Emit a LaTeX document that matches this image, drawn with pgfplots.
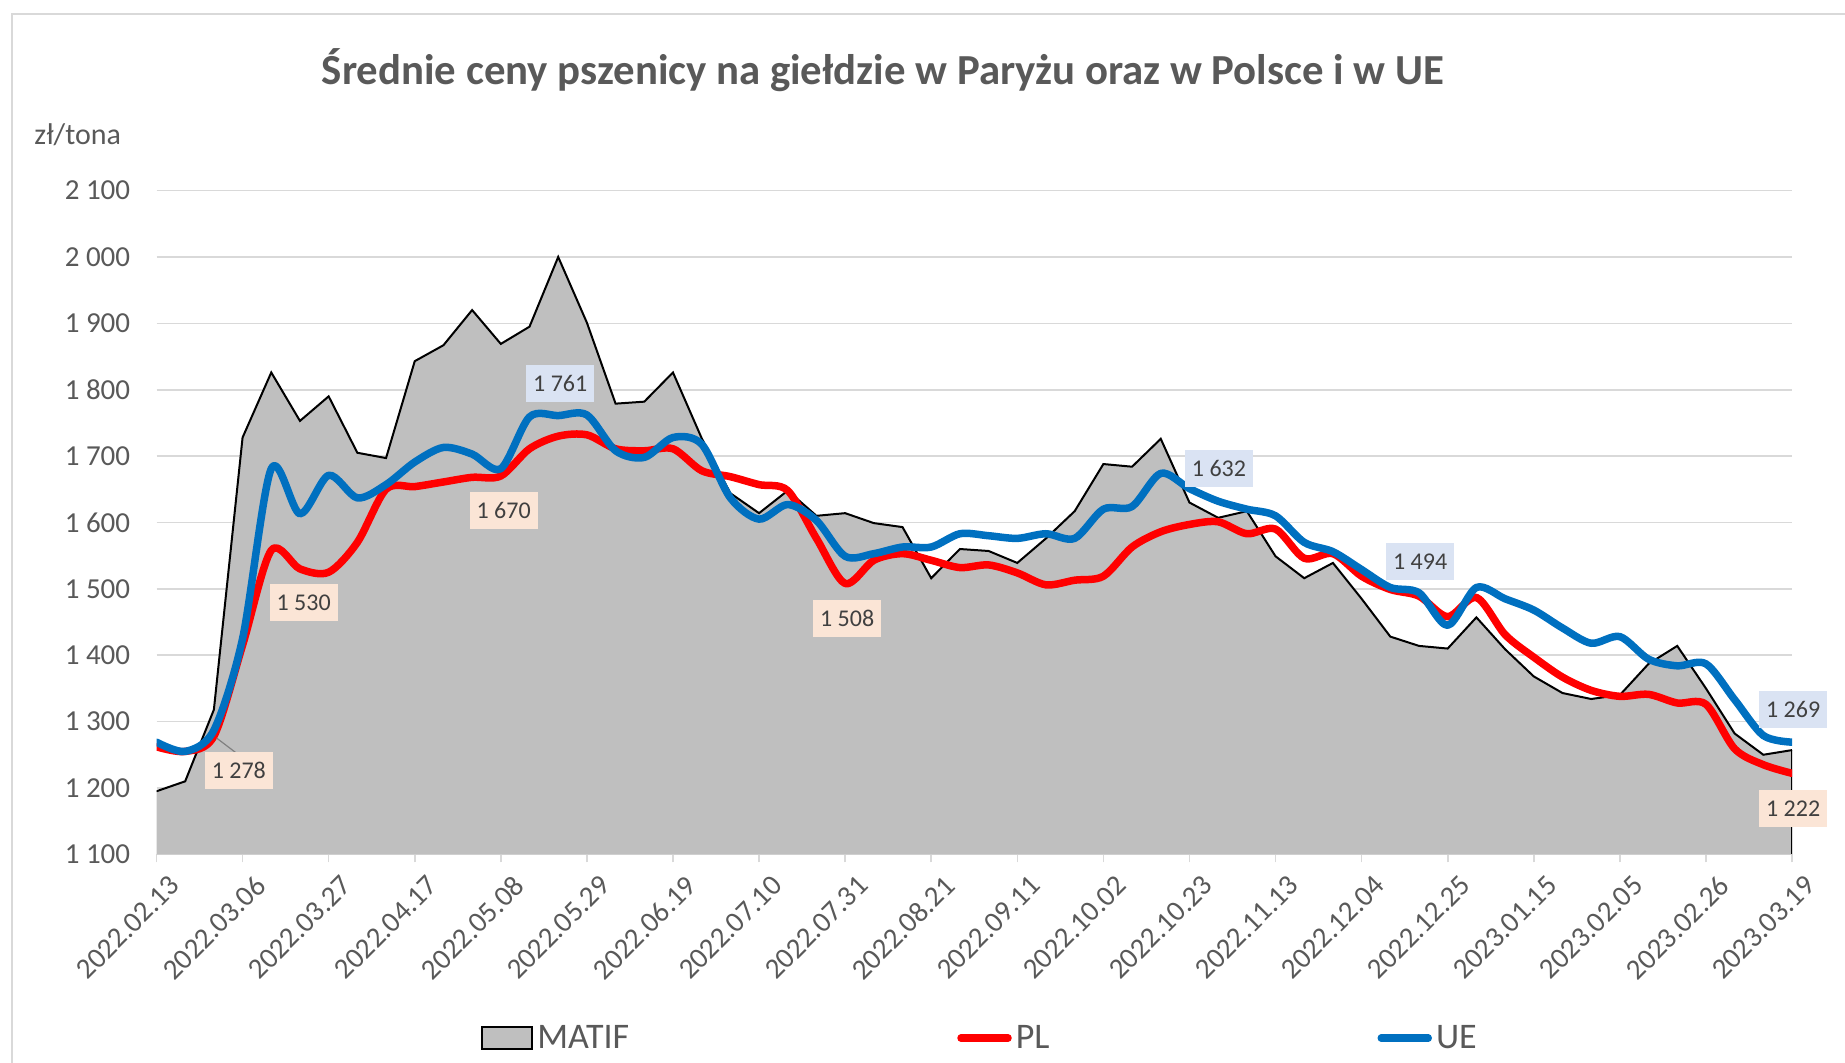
\documentclass[border=0pt]{standalone}
\usepackage{pgfplots}
\usepackage{pgfplotstable}
\pgfplotsset{compat=1.18}
\usepackage{fontspec}
\setmainfont{Carlito}
\definecolor{txtgray}{HTML}{595959}
\definecolor{lblgray}{HTML}{404040}
\definecolor{gridgray}{HTML}{D9D9D9}
\definecolor{areagray}{HTML}{BFBFBF}
\definecolor{plred}{HTML}{FF0000}
\definecolor{ueblue}{HTML}{0070C0}
\definecolor{peach}{HTML}{FBE5D6}
\definecolor{lightblue}{HTML}{DAE3F3}
\newcommand\tickfont{\fontsize{14.5}{17}\selectfont}
\newcommand\lblfont{\fontsize{12}{14}\selectfont}
\newcommand\legfont{\fontsize{18}{21}\selectfont}
\newcommand\titlefont{\fontsize{21.4}{25}\selectfont\bfseries}

\pgfplotstableread{
i matif pl ue
0 1195 1262 1269
1 1210 1255 1255
2 1318 1278 1287
3 1728 1415 1425
4 1826 1558 1681
5 1753 1530 1613
6 1790 1525 1671
7 1705 1570 1637
8 1697 1650 1657
9 1843 1654 1691
10 1867 1661 1713
11 1920 1668 1703
12 1869 1670 1681
13 1895 1711 1759
14 2000 1730 1761
15 1901 1732 1762
16 1779 1711 1708
17 1782 1708 1698
18 1826 1711 1728
19 1727 1678 1718
20 1644 1669 1637
21 1614 1657 1605
22 1648 1648 1627
23 1610 1576 1603
24 1614 1508 1549
25 1599 1543 1553
26 1593 1553 1563
27 1516 1543 1563
28 1560 1532 1583
29 1557 1536 1580
30 1539 1524 1576
31 1576 1506 1583
32 1617 1513 1576
33 1688 1519 1620
34 1684 1563 1624
35 1726 1586 1674
36 1630 1597 1651
37 1607 1601 1632
38 1617 1583 1620
39 1549 1590 1610
40 1516 1546 1570
41 1539 1553 1556
42 1485 1519 1529
43 1428 1499 1502
44 1414 1489 1494
45 1410 1458 1445
46 1457 1487 1502
47 1409 1431 1485
48 1368 1397 1468
49 1343 1367 1441
50 1334 1347 1418
51 1340 1338 1428
52 1387 1341 1394
53 1414 1328 1384
54 1350 1326 1387
55 1282 1259 1333
56 1250 1235 1279
57 1257 1222 1269
}\data

\begin{document}
\begin{tikzpicture}
\useasboundingbox (0,0) rectangle (922.5pt,531pt);
\draw[gridgray, line width=1pt] (6pt,-5pt) -- (6pt,524pt) -- (930pt,524pt);
\node[font=\titlefont, text=txtgray] at (441.5pt,495.7pt) {Średnie ceny pszenicy na giełdzie w Paryżu oraz w Polsce i w UE};
\node[font=\fontsize{15}{18}\selectfont, text=txtgray, anchor=west, inner sep=0pt] at (17pt,463.5pt) {zł/tona};
\begin{axis}[
  at={(78.25pt,103.85pt)}, anchor=south west,
  scale only axis, width=817.75pt, height=331.85pt,
  xmin=0, xmax=57, ymin=1100, ymax=2100,
  clip mode=individual,
  axis x line*=bottom, axis y line*=left,
  x axis line style={draw=gridgray, line width=1pt, -},
  y axis line style={draw=none},
  ytick={1100,1200,...,2100},
  yticklabels={1 100,1 200,1 300,1 400,1 500,1 600,1 700,1 800,1 900,2 000,2 100},
  ytick style={draw=none},
  xtick={0,3,...,57},
  xticklabels={2022.02.13,2022.03.06,2022.03.27,2022.04.17,2022.05.08,2022.05.29,2022.06.19,2022.07.10,2022.07.31,2022.08.21,2022.09.11,2022.10.02,2022.10.23,2022.11.13,2022.12.04,2022.12.25,2023.01.15,2023.02.05,2023.02.26,2023.03.19},
  xtick style={draw=gridgray, line width=0.8pt},
  major tick length=4pt, tick align=outside,
  ymajorgrids, grid style={gridgray, line width=0.8pt},
  yticklabel style={font=\tickfont, text=txtgray, anchor=east, inner sep=0pt, xshift=-9pt},
  xticklabel style={font=\tickfont, text=txtgray, rotate=45, anchor=north east, inner sep=0pt, xshift=0pt, yshift=-8pt},
  legend columns=3,
  legend style={draw=none, fill=none, at={(0.504,-0.277)}, anchor=center, font=\legfont, text=txtgray,
    nodes={inner xsep=2pt, inner ysep=1pt},
    /tikz/every even column/.append style={column sep=162pt}},
]
\addplot[fill=areagray, draw=none,
  legend image code/.code={\draw[fill=areagray, draw=black, line width=1.2pt] (0pt,-5.5pt) rectangle (25pt,5.5pt);}]
  table[x=i, y=matif]{\data} \closedcycle;
\addlegendentry{MATIF}
\addplot[black, line width=1pt, forget plot] table[x=i, y=matif]{\data};
\addplot[black, line width=1.3pt, forget plot] coordinates {(57,1257) (57,1100)};
\addplot[plred, line width=3.75pt, smooth, line cap=round, line join=round,
  legend image code/.code={\draw[plred, line width=3.75pt, line cap=round] (1.5pt,0pt) -- (25pt,0pt);}]
  table[x=i, y=pl]{\data};
\addlegendentry{PL}
\addplot[ueblue, line width=3.75pt, smooth, line cap=round, line join=round,
  legend image code/.code={\draw[ueblue, line width=3.75pt, line cap=round] (1.5pt,0pt) -- (25pt,0pt);}]
  table[x=i, y=ue]{\data};
\addlegendentry{UE}
\draw[gray, line width=0.6pt] (axis cs:2.1,1275) -- (axis cs:2.8,1252);
\tikzset{lbl/.style={font=\lblfont, text=lblgray, inner xsep=3.5pt, inner ysep=0pt, minimum height=18.5pt}}
\node[lbl, fill=peach] at (axis cs:2.87,1226) {1 278};
\node[lbl, fill=peach] at (axis cs:5.13,1479) {1 530};
\node[lbl, fill=peach] at (axis cs:12.1,1618) {1 670};
\node[lbl, fill=lightblue] at (axis cs:14.07,1809) {1 761};
\node[lbl, fill=peach] at (axis cs:24.07,1456) {1 508};
\node[lbl, fill=lightblue] at (axis cs:37.03,1682) {1 632};
\node[lbl, fill=lightblue] at (axis cs:44.04,1541) {1 494};
\node[lbl, fill=lightblue] at (axis cs:57.04,1318) {1 269};
\node[lbl, fill=peach] at (axis cs:57.04,1169) {1 222};
\end{axis}
\end{tikzpicture}
\end{document}
